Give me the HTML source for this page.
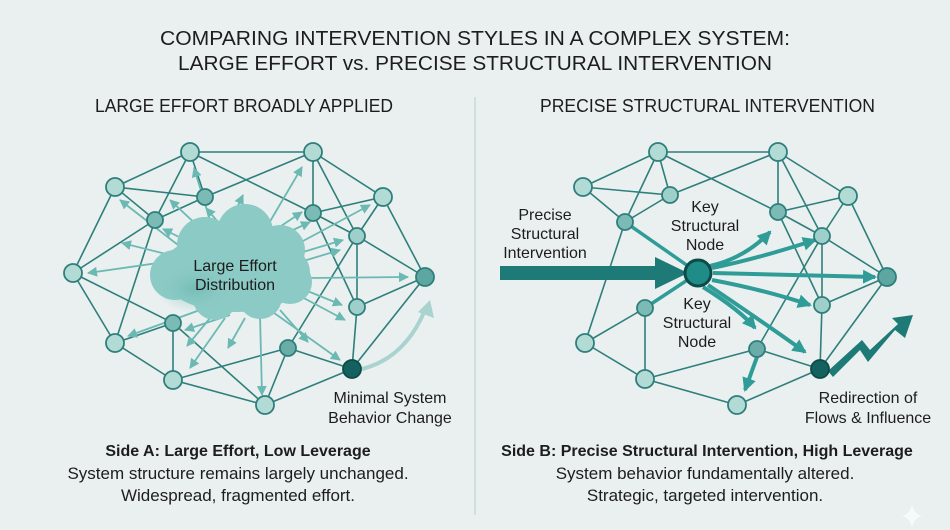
<!DOCTYPE html>
<html><head><meta charset="utf-8"><style>
html,body{margin:0;padding:0;background:#e9f0ef;}
svg{display:block;font-family:"Liberation Sans",sans-serif;}
</style></head><body>
<svg width="950" height="530" viewBox="0 0 950 530" xmlns="http://www.w3.org/2000/svg">
<defs>
<marker id="al" markerWidth="10" markerHeight="10" refX="9" refY="5" orient="auto" markerUnits="userSpaceOnUse"><path d="M0,0 L10,5 L0,10 z" fill="#6cb9b3"/></marker>
<marker id="ad" markerWidth="14" markerHeight="14" refX="12" refY="7" orient="auto" markerUnits="userSpaceOnUse"><path d="M0,0 L14,7 L0,14 z" fill="#2f9c98"/></marker>
<radialGradient id="cg2" cx="0.5" cy="0.5" r="0.5"><stop offset="0" stop-color="#6bb6b0" stop-opacity="0.7"/><stop offset="1" stop-color="#8ccac5" stop-opacity="0"/></radialGradient>
</defs>
<rect width="950" height="530" fill="#e9f0ef"/>
<g fill="#1d1d1d" font-size="20">
<text x="160" y="45" textLength="630" lengthAdjust="spacingAndGlyphs">COMPARING INTERVENTION STYLES IN A COMPLEX SYSTEM:</text>
<text x="178" y="70" textLength="594" lengthAdjust="spacingAndGlyphs">LARGE EFFORT vs. PRECISE STRUCTURAL INTERVENTION</text>
<text x="95" y="112" font-size="18" textLength="298" lengthAdjust="spacingAndGlyphs">LARGE EFFORT BROADLY APPLIED</text>
<text x="540" y="112" font-size="18" textLength="335" lengthAdjust="spacingAndGlyphs">PRECISE STRUCTURAL INTERVENTION</text>
</g>
<line x1="475" y1="97" x2="475" y2="515" stroke="#c9d9d7" stroke-width="1.5"/>

<g stroke="#2e7f7c" stroke-width="1.6" fill="none">
<path d="M190,152L313,152 M190,152L115,187 M190,152L155,220 M190,152L205,197 M190,152L313,213 M115,187L205,197 M115,187L155,220 M115,187L73,273 M313,152L205,197 M313,152L313,213 M313,152L383,197 M313,152L357,236 M205,197L155,220 M383,197L313,213 M383,197L357,236 M383,197L425,277 M313,213L357,236 M313,213L357,307 M357,236L425,277 M357,236L357,307 M357,236L288,348 M155,220L73,273 M155,220L115,343 M73,273L115,343 M73,273L173,323 M115,343L173,323 M115,343L173,380 M173,323L173,380 M173,323L265,405 M173,380L288,348 M173,380L265,405 M288,348L265,405 M288,348L352,369 M265,405L352,369 M357,307L352,369 M357,307L425,277 M425,277L352,369"/>
</g>
<g stroke="#6cb9b3" stroke-width="1.8" marker-end="url(#al)">
<line x1="165" y1="262" x2="88" y2="273"/>
<line x1="170" y1="255" x2="122" y2="243"/>
<line x1="178" y1="245" x2="120" y2="200"/>
<line x1="185" y1="240" x2="163" y2="229"/>
<line x1="200" y1="228" x2="170" y2="200"/>
<line x1="210" y1="220" x2="194" y2="168"/>
<line x1="218" y1="222" x2="206" y2="208"/>
<line x1="232" y1="218" x2="243" y2="195"/>
<line x1="265" y1="230" x2="302" y2="167"/>
<line x1="272" y1="232" x2="302" y2="212"/>
<line x1="276" y1="238" x2="310" y2="222"/>
<line x1="290" y1="248" x2="370" y2="205"/>
<line x1="293" y1="255" x2="343" y2="240"/>
<line x1="300" y1="262" x2="340" y2="250"/>
<line x1="310" y1="278" x2="408" y2="277"/>
<line x1="305" y1="290" x2="342" y2="305"/>
<line x1="300" y1="296" x2="345" y2="320"/>
<line x1="280" y1="310" x2="308" y2="342"/>
<line x1="270" y1="310" x2="340" y2="360"/>
<line x1="260" y1="315" x2="262" y2="395"/>
<line x1="245" y1="318" x2="228" y2="348"/>
<line x1="230" y1="315" x2="185" y2="330"/>
<line x1="215" y1="312" x2="187" y2="346"/>
<line x1="200" y1="310" x2="128" y2="336"/>
<line x1="225" y1="318" x2="190" y2="368"/>
</g>
<g fill="#8ccac5">
<ellipse cx="235" cy="272" rx="75" ry="40"/>
<circle cx="205" cy="245" r="28"/><circle cx="245" cy="232" r="28"/><circle cx="280" cy="250" r="25"/>
<circle cx="175" cy="275" r="25"/><circle cx="290" cy="282" r="22"/><circle cx="215" cy="298" r="22"/><circle cx="260" cy="297" r="22"/>
</g>
<ellipse cx="195" cy="288" rx="40" ry="25" fill="url(#cg2)"/>
<path d="M362,369 Q405,358 425,310" stroke="#a9d3cf" stroke-width="4" fill="none"/>
<path d="M418,312 L430,300 L434,318 z" fill="#a9d3cf"/>
<g stroke="#2e7f7c" stroke-width="1.8">
<circle cx="190" cy="152" r="9" fill="#b3dbd6"/><circle cx="313" cy="152" r="9" fill="#b3dbd6"/>
<circle cx="115" cy="187" r="9" fill="#b3dbd6"/><circle cx="205" cy="197" r="8" fill="#7cbab5"/>
<circle cx="383" cy="197" r="9" fill="#b3dbd6"/><circle cx="155" cy="220" r="8" fill="#7cbab5"/>
<circle cx="313" cy="213" r="8" fill="#7cbab5"/><circle cx="357" cy="236" r="8" fill="#9fcfca"/>
<circle cx="73" cy="273" r="9" fill="#b3dbd6"/><circle cx="425" cy="277" r="9" fill="#5ea6a2"/>
<circle cx="357" cy="307" r="8" fill="#9fcfca"/><circle cx="173" cy="323" r="8" fill="#7cbab5"/>
<circle cx="115" cy="343" r="9" fill="#b3dbd6"/><circle cx="288" cy="348" r="8" fill="#6aaca7"/>
<circle cx="352" cy="369" r="9" fill="#14625f" stroke="#0e4a48"/><circle cx="173" cy="380" r="9" fill="#b3dbd6"/>
<circle cx="265" cy="405" r="9" fill="#b3dbd6"/>
</g>
<g fill="#1d1d1d" font-size="16" text-anchor="middle">
<text x="235" y="271">Large Effort</text><text x="235" y="290">Distribution</text>
<text x="390" y="403">Minimal System</text><text x="390" y="423">Behavior Change</text>
</g>

<g stroke="#2e7f7c" stroke-width="1.6" fill="none">
<path d="M658,152L778,152 M658,152L583,187 M658,152L670,195 M658,152L625,222 M658,152L778,212 M583,187L670,195 M583,187L625,222 M778,152L670,195 M778,152L778,212 M778,152L848,196 M778,152L822,236 M670,195L625,222 M778,212L848,196 M778,212L822,236 M778,212L822,305 M848,196L822,236 M848,196L887,277 M822,236L887,277 M822,236L757,349 M822,236L822,305 M625,222L585,343 M585,343L645,308 M585,343L645,379 M645,308L645,379 M645,379L757,349 M645,379L737,405 M737,405L820,369 M757,349L820,369 M822,305L820,369 M822,305L887,277 M887,277L820,369"/>
</g>
<g stroke="#2f9c98" stroke-width="3.5" fill="none">
<path d="M625,222L698,273 M645,308L698,273"/>
</g>
<rect x="500" y="266" width="160" height="14" fill="#1d7a77"/>
<path d="M655,257 L688,273 L655,289 z" fill="#1d7a77"/>
<g stroke="#2f9c98" stroke-width="4" fill="none" marker-end="url(#ad)">
<path d="M710,266 Q745,258 770,232"/>
<path d="M712,268 Q760,258 815,240"/>
<path d="M713,273 L875,277"/>
<path d="M712,280 Q765,290 810,305"/>
<path d="M708,285 Q760,320 805,352"/>
<path d="M703,287 Q740,310 755,328"/>
<path d="M757,357 L745,390"/>
</g>
<path d="M833,377 L860,350 L868,362 L895,330 L905,338 L913,315 L892,318 L898,324 L870,350 L862,340 L828,371 z" fill="#1d7a77"/>
<g stroke="#2e7f7c" stroke-width="1.8">
<circle cx="658" cy="152" r="9" fill="#b3dbd6"/><circle cx="778" cy="152" r="9" fill="#b3dbd6"/>
<circle cx="583" cy="187" r="9" fill="#b3dbd6"/><circle cx="670" cy="195" r="8" fill="#9fcfca"/>
<circle cx="848" cy="196" r="9" fill="#b3dbd6"/><circle cx="625" cy="222" r="8" fill="#7cbab5"/>
<circle cx="778" cy="212" r="8" fill="#7cbab5"/><circle cx="822" cy="236" r="8" fill="#9fcfca"/>
<circle cx="887" cy="277" r="9" fill="#5ea6a2"/><circle cx="645" cy="308" r="8" fill="#7cbab5"/>
<circle cx="822" cy="305" r="8" fill="#9fcfca"/><circle cx="585" cy="343" r="9" fill="#b3dbd6"/>
<circle cx="757" cy="349" r="8" fill="#6aaca7"/><circle cx="645" cy="379" r="9" fill="#b3dbd6"/>
<circle cx="820" cy="369" r="9" fill="#14625f" stroke="#0e4a48"/><circle cx="737" cy="405" r="9" fill="#b3dbd6"/>
<circle cx="698" cy="273" r="13" fill="#1f8c88" stroke="#0e4a48" stroke-width="3"/>
</g>
<g fill="#1d1d1d" font-size="16" text-anchor="middle">
<text x="545" y="220">Precise</text><text x="545" y="239">Structural</text><text x="545" y="258">Intervention</text>
<text x="705" y="212">Key</text><text x="705" y="231">Structural</text><text x="705" y="250">Node</text>
<text x="697" y="309">Key</text><text x="697" y="328">Structural</text><text x="697" y="347">Node</text>
<text x="868" y="403">Redirection of</text><text x="868" y="423">Flows &amp; Influence</text>
</g>
<g fill="#1d1d1d" text-anchor="middle">
<text x="238" y="456" font-size="16" font-weight="bold">Side A: Large Effort, Low Leverage</text>
<text x="238" y="479" font-size="17">System structure remains largely unchanged.</text>
<text x="238" y="501" font-size="17">Widespread, fragmented effort.</text>
<text x="707" y="456" font-size="16" font-weight="bold">Side B: Precise Structural Intervention, High Leverage</text>
<text x="705" y="479" font-size="17">System behavior fundamentally altered.</text>
<text x="705" y="501" font-size="17">Strategic, targeted intervention.</text>
</g>
<path d="M912,505 Q914,514 922,516 Q914,518 912,527 Q910,518 902,516 Q910,514 912,505z" fill="#f7fafa"/>
</svg>
</body></html>
